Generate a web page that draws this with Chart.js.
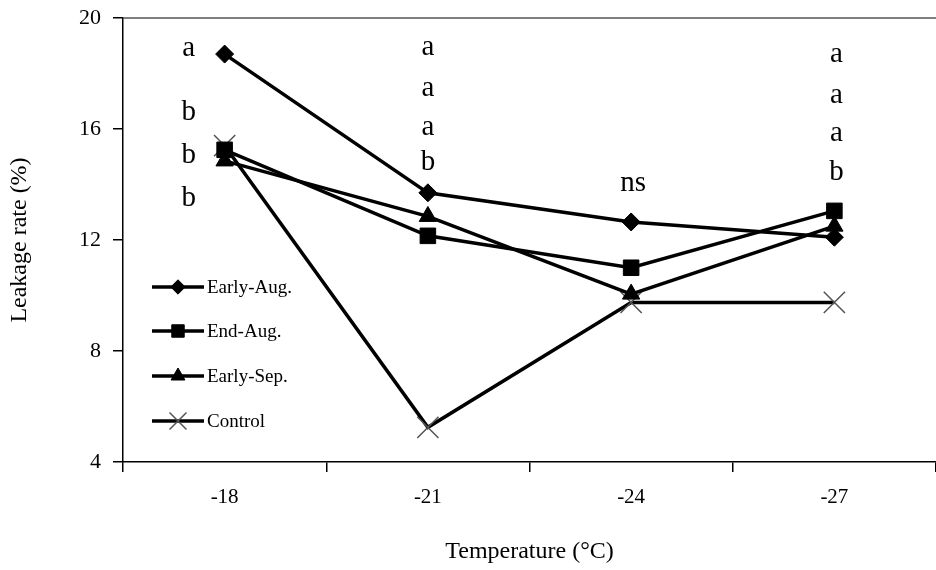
<!DOCTYPE html>
<html>
<head>
<meta charset="utf-8">
<script src="https://cdn.jsdelivr.net/npm/chart.js@4/dist/chart.umd.min.js"></script>
<style>
  html, body { margin: 0; padding: 0; background: #fff; }
  #wrap { width: 936px; height: 570px; }
</style>
</head>
<body>
<div id="wrap"><canvas id="leakChart" width="936" height="570"></canvas></div>
<script>
// Temperature categories (°C)
const temperatures = ['-18', '-21', '-24', '-27'];

// Leakage rate (%) per sampling date
const earlyAug = [18.7, 13.7, 12.65, 12.1];
const endAug = [15.25, 12.15, 11.0, 13.05];
const earlySep = [14.85, 12.85, 10.05, 12.5];
const control = [15.4, 5.25, 9.75, 9.75];

// Significance letters per temperature (top to bottom)
const sigLetters = [
    ['a', 'b', 'b', 'b'],
    ['a', 'a', 'a', 'b'],
    ['ns'],
    ['a', 'a', 'a', 'b']
];
// Leakage-rate level where each letter sits
const sigLevels = [
    [18.9, 16.6, 15.05, 13.5],
    [18.95, 17.45, 16.05, 14.8],
    [14.05],
    [18.7, 17.2, 15.85, 14.45]
];

const serif = "'Liberation Serif', 'Times New Roman', serif";

// Draws the top frame line, the significance letters and the in-plot legend
const decorPlugin = {
    id: 'decor',
    afterDraw(chart) {
        const ctx = chart.ctx;
        const area = chart.chartArea;
        const x = chart.scales.x;
        const y = chart.scales.y;

        ctx.save();
        // top frame line
        ctx.strokeStyle = '#555';
        ctx.lineWidth = 1.5;
        ctx.beginPath();
        ctx.moveTo(area.left, area.top);
        ctx.lineTo(chart.width, area.top);
        ctx.stroke();

        // letters (first column sits left of its markers)
        const shift = [-36, 0, 2, 2];
        ctx.fillStyle = '#000';
        ctx.font = '29px ' + serif;
        ctx.textAlign = 'center';
        ctx.textBaseline = 'middle';
        sigLetters.forEach((col, i) => {
            col.forEach((txt, j) => {
                ctx.fillText(txt, x.getPixelForValue(i) + shift[i], y.getPixelForValue(sigLevels[i][j]));
            });
        });

        // legend
        const rowY = [287, 331, 376, 421];
        const x0 = 152, x1 = 204;
        ctx.font = '19px ' + serif;
        ctx.textAlign = 'left';
        chart.data.datasets.forEach((ds, i) => {
            const ly = rowY[i];
            ctx.strokeStyle = '#000';
            ctx.lineWidth = 3.5;
            ctx.beginPath();
            ctx.moveTo(x0, ly);
            ctx.lineTo(x1, ly);
            ctx.stroke();
            ctx.fillStyle = ds.pointBackgroundColor;
            ctx.strokeStyle = ds.pointBorderColor;
            ctx.lineWidth = ds.pointBorderWidth;
            Chart.helpers.drawPoint(ctx, {
                pointStyle: ds.pointStyle,
                radius: ds.pointRadius * 0.8,
                borderWidth: ds.pointBorderWidth,
                rotation: 0
            }, (x0 + x1) / 2, ly);
            ctx.fillStyle = '#000';
            ctx.fillText(ds.label, x1 + 3, ly + 1);
        });
        ctx.restore();
    }
};

function series(label, values, style, radius, pointColor, pointWidth) {
    return {
        label: label,
        data: values,
        borderColor: '#000',
        borderWidth: 3.5,
        pointStyle: style,
        pointRadius: radius,
        pointHoverRadius: radius,
        pointBackgroundColor: '#000',
        pointBorderColor: pointColor,
        pointBorderWidth: pointWidth,
        tension: 0,
        fill: false
    };
}

new Chart(document.getElementById('leakChart').getContext('2d'), {
    type: 'line',
    data: {
        labels: temperatures,
        datasets: [
            series('Early-Aug.', earlyAug, 'rectRot', 9, '#000', 1),
            series('End-Aug.', endAug, 'rect', 11, '#000', 1),
            series('Early-Sep.', earlySep, 'triangle', 10, '#000', 1),
            series('Control', control, 'crossRot', 15, '#555', 1.5)
        ]
    },
    options: {
        responsive: false,
        animation: false,
        devicePixelRatio: 1,
        layout: {
            autoPadding: false,
            padding: { top: 18, right: 0, bottom: 0, left: 0 }
        },
        plugins: {
            legend: { display: false },
            tooltip: { enabled: false }
        },
        scales: {
            x: {
                offset: true,
                grid: {
                    offset: true,
                    drawOnChartArea: false,
                    tickLength: 10,
                    color: '#000',
                    lineWidth: 1.5
                },
                border: { color: '#000', width: 1.5 },
                ticks: {
                    color: '#000',
                    padding: 13,
                    font: { family: serif, size: 21 }
                },
                title: {
                    display: true,
                    text: 'Temperature (°C)',
                    color: '#000',
                    font: { family: serif, size: 24 },
                    padding: { top: 0, bottom: 4 }
                },
                afterFit(scale) {
                    scale.height = 108;
                    scale.paddingLeft = 0;
                    scale.paddingRight = 0;
                }
            },
            y: {
                min: 4,
                max: 20,
                grid: {
                    drawOnChartArea: false,
                    tickLength: 10,
                    color: '#000',
                    lineWidth: 1.5
                },
                border: { color: '#000', width: 1.5 },
                ticks: {
                    stepSize: 4,
                    color: '#000',
                    padding: 12,
                    font: { family: serif, size: 22 }
                },
                title: {
                    display: true,
                    text: 'Leakage rate (%)',
                    color: '#000',
                    font: { family: serif, size: 24 },
                    padding: { top: 5, bottom: 0 }
                },
                afterFit(scale) {
                    scale.width = 123;
                    scale.paddingTop = 0;
                    scale.paddingBottom = 0;
                }
            }
        }
    },
    plugins: [decorPlugin]
});
</script>
</body>
</html>
